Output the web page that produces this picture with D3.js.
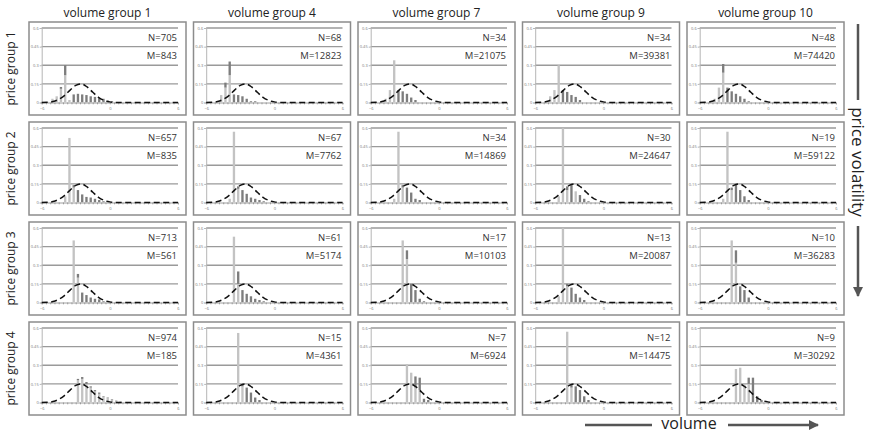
<!DOCTYPE html>
<html>
<head>
<meta charset="utf-8">
<script src="https://cdn.jsdelivr.net/npm/d3@7"></script>
<style>
body { margin: 0; background: #fff; }
text { font-family: "Open Sans", "Liberation Sans", sans-serif; }
</style>
</head>
<body>
<svg width="871" height="433"></svg>
<script>
// columns / rows
var volumeGroups = ["volume group 1", "volume group 4", "volume group 7", "volume group 9", "volume group 10"];
var priceGroups = ["price group 1", "price group 2", "price group 3", "price group 4"];

var nValues = [[705, 68, 34, 34, 48], [657, 67, 34, 30, 19], [713, 61, 17, 13, 10], [974, 15, 7, 12, 9]];
var mValues = [[843, 12823, 21075, 39381, 74420], [835, 7762, 14869, 24647, 59122],
               [561, 5174, 10103, 20087, 36283], [185, 4361, 6924, 14475, 30292]];

// histogram bins from -6 to 6 (32 bins); missing = 0
var binCount = 32;
var yTicks = [0, 0.15, 0.3, 0.45, 0.6];
var xLabels = [-6, 0, 6];

var lightBars = [
  [[0.004,0.005,0.03,0.05,0.11,0.22,0.02],
   [0.004,0.004,0,0.06,0.12,0.22],
   [0.004,0,0,0.03,0.1,0.34],
   [0.004,0,0,0.05,0.1,0.3],
   [0.004,0,0,0.03,0.12,0.24]],
  [[0.005,0,0,0,0,0.05,0.52,0.12],
   [0.004,0,0,0,0,0.03,0.57,0.11],
   [0.004,0,0,0,0,0.03,0.57,0.12],
   [0.004,0,0,0,0,0.05,0.65,0.1,0,0.09],
   [0.004,0,0,0,0,0.03,0.57,0.1]],
  [[0.005,0,0,0,0,0,0,0.5,0.2],
   [0.004,0,0,0,0,0,0.53,0.15],
   [0.004,0,0,0,0,0,0,0.5,0.35],
   [0.004,0,0,0,0,0.05,0.65,0.13],
   [0.004,0,0,0,0,0,0,0.5,0.32]],
  [[0.005,0,0,0,0,0,0,0,0.18,0.19,0.15,0.12,0.09,0.07,0.045,0.035,0.02,0.01,0.01],
   [0.004,0,0,0,0,0,0,0.56,0.13],
   [0.004,0,0,0,0,0,0,0,0.31,0.24,0.12,0.1],
   [0.004,0,0,0,0,0,0,0.57,0.12],
   [0.004,0,0,0,0,0,0,0,0.27,0.28,0.15,0.15]]
];

var darkBars = [
  [[0,0,0,0,0.015,0.08,0,0.065,0.07,0.065,0.06,0.05,0.045,0.035,0.03,0.015,0.01],
   [0,0,0,0,0.04,0.11,0.065,0.06,0.05,0.03,0.01,0.01],
   [0,0,0,0,0,0,0.1,0.09,0.07,0.04,0.02],
   [0,0,0,0,0,0,0.1,0.085,0.06,0.045,0.02],
   [0,0,0,0,0,0.07,0.12,0.09,0.07,0.05,0.03,0.01]],
  [[0,0,0,0,0,0,0,0.02,0.1,0.065,0.045,0.04,0.03,0.02,0.01],
   [0,0,0,0,0,0,0,0.02,0.1,0.07,0.04,0.03,0.02,0.01],
   [0,0,0,0,0,0,0,0.02,0.12,0.08,0.03,0.02],
   [0,0,0,0,0,0,0,0.03,0.14,0,0.06,0.03,0.01],
   [0,0,0,0,0,0,0,0.02,0.15,0.1,0.05,0.02]],
  [[0,0,0,0,0,0,0,0,0.03,0.08,0.06,0.04,0.03,0.025,0.01],
   [0,0,0,0,0,0,0,0.1,0.1,0.07,0.05,0.03,0.02,0.01],
   [0,0,0,0,0,0,0,0,0.07,0.15,0.1,0.03,0.01],
   [0,0,0,0,0,0,0,0.02,0.12,0.07,0.04,0.02],
   [0,0,0,0,0,0,0,0,0.1,0.13,0.1,0.04]],
  [[0,0,0,0,0,0,0,0,0.01,0.015,0.015,0.01,0.01,0.01,0.005,0.005,0.005,0.005],
   [0,0,0,0,0,0,0,0,0.02,0.12,0.08,0.04,0.02],
   [0,0,0,0,0,0,0,0,0,0,0.09,0.1,0.03,0.02],
   [0,0,0,0,0,0,0,0,0.02,0.13,0.1,0.05,0.02],
   [0,0,0,0,0,0,0,0,0,0,0,0.05,0.2,0.05,0.02]]
];

// dashed reference curve (same in every panel), read at every 0.5
var curveX = [-6,-5.5,-5,-4.5,-4,-3.5,-3,-2.5,-2,-1.5,-1,-0.5,0,0.5,1,1.5,2,2.5,3,3.5,4,4.5,5,5.5,6];
var curveY = [0.0005,0.002,0.008,0.025,0.056,0.1,0.138,0.149,0.125,0.082,0.042,0.017,0.005,0.001,0,0,0,0,0,0,0,0,0,0,0];

var svg = d3.select("svg");

var pw = 157, ph = 93;
var colScale = d3.scaleBand().domain(d3.range(5)).range([29, 29 + 5 * 164.5]);
var rowScale = d3.scaleBand().domain(d3.range(4)).range([22, 22 + 4 * 100]);

var x = d3.scaleLinear().domain([-6, 6]).range([12.7, pw - 8]);
var y = d3.scaleLinear().domain([0, 0.6]).range([ph - 12.5, 6]);
var band = d3.scaleBand().domain(d3.range(binCount)).range([x(-6), x(6)]).paddingInner(0.45).paddingOuter(0.25);

var binEdges = d3.range(binCount + 1).map(function(i) { return x.invert(x(-6) + i * band.step()); });

var line = d3.line()
    .x(function(d) { return x(d[0]); })
    .y(function(d) { return y(d[1]); })
    .curve(d3.curveMonotoneX);

svg.append("defs").append("clipPath").attr("id", "plotclip")
  .append("rect").attr("x", x(-6)).attr("y", y(0.6)).attr("width", x(6) - x(-6)).attr("height", y(0) - y(0.6));

// column headers
svg.selectAll(".colhead").data(volumeGroups).enter().append("text")
  .attr("class", "colhead")
  .attr("x", function(d, i) { return colScale(i) + pw / 2; })
  .attr("y", 17)
  .attr("text-anchor", "middle")
  .style("font-size", "12px")
  .style("fill", "#222")
  .text(function(d) { return d; });

// row labels
svg.selectAll(".rowhead").data(priceGroups).enter().append("text")
  .attr("class", "rowhead")
  .attr("transform", function(d, i) { return "translate(15," + (rowScale(i) + ph / 2) + ") rotate(-90)"; })
  .attr("text-anchor", "middle")
  .style("font-size", "12px")
  .style("fill", "#222")
  .text(function(d) { return d; });

for (var r = 0; r < 4; r++) {
  for (var c = 0; c < 5; c++) {
    var g = svg.append("g").attr("transform", "translate(" + colScale(c) + "," + rowScale(r) + ")");

    g.append("rect")
      .attr("width", pw).attr("height", ph)
      .style("fill", "#fff")
      .style("stroke", "#8c8c8c")
      .style("stroke-width", 1.5);

    // gridlines
    g.selectAll(".grid").data(yTicks.slice(1)).enter().append("line")
      .attr("x1", x(-6)).attr("x2", x(6))
      .attr("y1", function(d) { return y(d); }).attr("y2", function(d) { return y(d); })
      .style("stroke", "#9a9a9a")
      .style("stroke-width", 1.4);

    // y axis
    var ya = g.append("g").attr("transform", "translate(" + x(-6) + ",0)")
      .call(d3.axisLeft(y).tickValues(yTicks).tickSize(2).tickFormat(function(d) { return d === 0 ? "0" : d; }));
    ya.select(".domain").style("stroke", "#b5b5b5");
    ya.selectAll(".tick line").style("stroke", "#b5b5b5");
    ya.selectAll("text").style("font-size", "4px").style("fill", "#777").attr("x", -3);

    // x axis: minor ticks on bin edges and labels
    var xa = g.append("g").attr("transform", "translate(0," + y(0) + ")")
      .call(d3.axisBottom(x).tickValues(binEdges).tickSize(1.8).tickFormat(""));
    xa.select(".domain").style("stroke", "#a0a0a0");
    xa.selectAll(".tick line").style("stroke", "#999");
    var xl = g.append("g").attr("transform", "translate(0," + y(0) + ")")
      .call(d3.axisBottom(x).tickValues(xLabels).tickSize(0).tickPadding(5));
    xl.select(".domain").remove();
    xl.selectAll("text").style("font-size", "4px").style("fill", "#777");

    // stacked bars: light on bottom, dark on top
    var rows = d3.range(binCount).map(function(i) {
      return { bin: i, light: lightBars[r][c][i] || 0, dark: darkBars[r][c][i] || 0 };
    });
    var stacked = d3.stack().keys(["light", "dark"])(rows);
    var colors = { light: "#c3c3c3", dark: "#7d7d7d" };
    var bars = g.append("g").attr("clip-path", "url(#plotclip)");
    stacked.forEach(function(layer) {
      bars.selectAll(".b" + layer.key).data(layer.filter(function(d) { return d[1] - d[0] > 0; }))
        .enter().append("rect")
        .attr("x", function(d) { return band(d.data.bin); })
        .attr("width", band.bandwidth())
        .attr("y", function(d) { return y(d[1]); })
        .attr("height", function(d) { return y(d[0]) - y(d[1]); })
        .style("fill", colors[layer.key]);
    });

    // dashed curve
    g.append("path")
      .datum(d3.zip(curveX, curveY))
      .attr("d", line)
      .style("fill", "none")
      .style("stroke", "#111")
      .style("stroke-width", 1.5)
      .style("stroke-dasharray", "6,3.5");

    // N and M labels
    g.append("text")
      .attr("x", x(6) - 1).attr("y", (y(0.6) + y(0.45)) / 2 + 3.5)
      .attr("text-anchor", "end")
      .style("font-size", "9.5px").style("fill", "#333")
      .text("N=" + nValues[r][c]);
    g.append("text")
      .attr("x", x(6) - 1).attr("y", (y(0.45) + y(0.3)) / 2 + 3.5)
      .attr("text-anchor", "end")
      .style("font-size", "9.5px").style("fill", "#333")
      .text("M=" + mValues[r][c]);
  }
}

// arrow marker
svg.append("defs").append("marker")
  .attr("id", "arrowhead")
  .attr("viewBox", "0 0 10 10")
  .attr("refX", 9).attr("refY", 5)
  .attr("markerWidth", 4).attr("markerHeight", 4)
  .attr("orient", "auto")
  .append("path").attr("d", "M0,0 L10,5 L0,10 Z").style("fill", "#555");

// price volatility (right side)
svg.append("line").attr("x1", 858).attr("x2", 858).attr("y1", 24).attr("y2", 100)
  .style("stroke", "#555").style("stroke-width", 2.5);
svg.append("text")
  .attr("transform", "translate(852,162) rotate(90)")
  .attr("text-anchor", "middle")
  .style("font-size", "17px").style("fill", "#222")
  .text("price volatility");
svg.append("line").attr("x1", 858).attr("x2", 858).attr("y1", 226).attr("y2", 296)
  .attr("marker-end", "url(#arrowhead)")
  .style("stroke", "#555").style("stroke-width", 2.5);

// volume (bottom)
svg.append("line").attr("x1", 585).attr("x2", 652).attr("y1", 425).attr("y2", 425)
  .style("stroke", "#555").style("stroke-width", 2.5);
svg.append("text")
  .attr("x", 689).attr("y", 429)
  .attr("text-anchor", "middle")
  .style("font-size", "16px").style("fill", "#222")
  .text("volume");
svg.append("line").attr("x1", 728).attr("x2", 818).attr("y1", 425).attr("y2", 425)
  .attr("marker-end", "url(#arrowhead)")
  .style("stroke", "#555").style("stroke-width", 2.5);
</script>
</body>
</html>
